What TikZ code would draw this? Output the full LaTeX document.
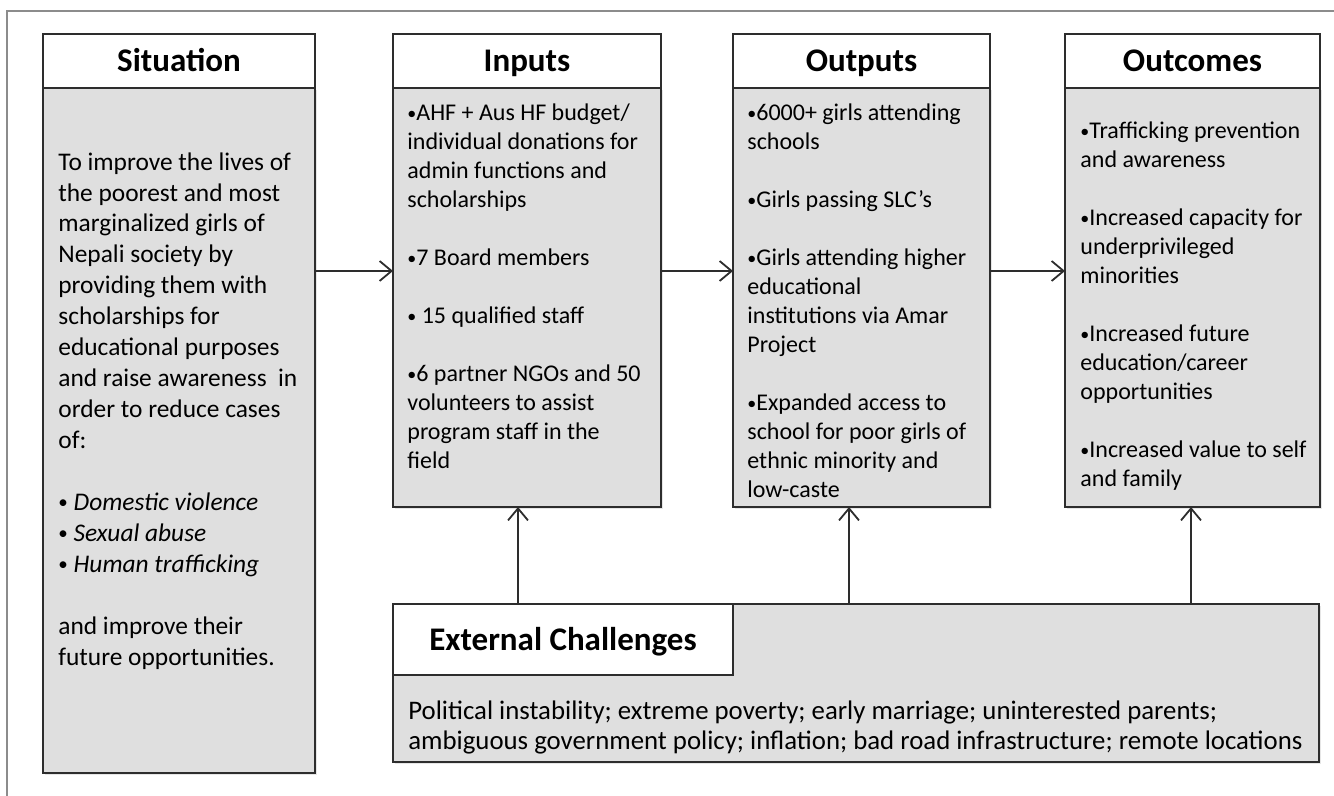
\documentclass[tikz,border=0pt]{standalone}
\usepackage{fontspec}
\setmainfont{Carlito}
\usetikzlibrary{arrows.meta,positioning,shadows}
\definecolor{boxgray}{RGB}{223,223,223}
\definecolor{linegray}{RGB}{45,45,45}
\definecolor{framegray}{RGB}{140,140,140}
\newcommand{\bul}{\raisebox{0.12ex}{\scalebox{0.75}{•}}}
\tikzset{
	head/.style={draw=linegray, fill=white, line width=1pt, inner sep=0pt, outer sep=0pt,
		text height=14.5pt, text depth=3.5pt, font=\fontsize{16.5}{18}\selectfont\bfseries},
	body/.style={draw=linegray, fill=boxgray, line width=1pt, inner sep=0pt, outer sep=0pt,
		drop shadow={shadow xshift=0.8pt, shadow yshift=-1pt, opacity=0.2}},
	bodytext/.style={anchor=north west, inner sep=0pt, align=left,
		font=\fontsize{12}{14.5}\selectfont},
	arrow/.style={-{Straight Barb[length=6pt,width=10pt]}, line width=0.9pt, draw=linegray},
}

\begin{document}
\begin{tikzpicture}[x=0.5pt, y=-0.5pt]
		%%%%% START %%%%%
		\useasboundingbox (0,0) rectangle (1334,796);
		\draw[framegray, line width=0.75pt] (7,796) -- (7,11) -- (1334,11);
		
		% top row
		\node[head, minimum width=136pt, minimum height=27pt, anchor=north west] (situation-head) at (43,34) {Situation};
		\node[body, minimum width=136pt, minimum height=342.5pt, below=0pt of situation-head] (situation) {};
		\node[head, minimum width=134pt, minimum height=27pt, anchor=north west] (inputs-head) at (393,34) {Inputs};
		\node[body, minimum width=134pt, minimum height=209.5pt, below=0pt of inputs-head] (inputs) {};
		\node[head, minimum width=128.5pt, minimum height=27pt, anchor=north west] (outputs-head) at (733,34) {Outputs};
		\node[body, minimum width=128.5pt, minimum height=209.5pt, below=0pt of outputs-head] (outputs) {};
		\node[head, minimum width=127.5pt, minimum height=27pt, anchor=north west] (outcomes-head) at (1065,34) {Outcomes};
		\node[body, minimum width=127.5pt, minimum height=209.5pt, below=0pt of outcomes-head] (outcomes) {};
		
		% texts
		\node[bodytext, font=\fontsize{12.7}{15.47}\selectfont] (situation-text) at (58,148) {\strut To improve the lives of\\
			the poorest and most\\
			marginalized girls of\\
			Nepali society by\\
			providing them with\\
			scholarships for\\
			educational purposes\\
			and raise awareness\ \ in\\
			order to reduce cases\\
			of:\\[\baselineskip]
			\bul\ \textit{Domestic violence}\\
			\bul\ \textit{Sexual abuse}\\
			\bul\ \textit{Human trafficking}\\[\baselineskip]
			and improve their\\
			future opportunities.};
		\node[bodytext] (inputs-text) at (407,100) {\strut \bul AHF + Aus HF budget/\\
			individual donations for\\
			admin functions and\\
			scholarships\\[\baselineskip]
			\bul 7 Board members\\[\baselineskip]
			\bul\ 15 qualified staff\\[\baselineskip]
			\bul 6 partner NGOs and 50\\
			volunteers to assist\\
			program staff in the\\
			field};
		\node[bodytext] (outputs-text) at (747,100) {\strut \bul 6000+ girls attending\\
			schools\\[\baselineskip]
			\bul Girls passing SLC’s\\[\baselineskip]
			\bul Girls attending higher\\
			educational\\
			institutions via Amar\\
			Project\\[\baselineskip]
			\bul Expanded access to\\
			school for poor girls of\\
			ethnic minority and\\
			low-caste};
		\node[bodytext] (outcomes-text) at (1080,118) {\strut \bul Trafficking prevention\\
			and awareness\\[\baselineskip]
			\bul Increased capacity for\\
			underprivileged\\
			minorities\\[\baselineskip]
			\bul Increased future\\
			education/career\\
			opportunities\\[\baselineskip]
			\bul Increased value to self\\
			and family};
		
		% bottom box
		\node[body, minimum width=463pt, minimum height=79pt, anchor=north west] (challenges) at (393,604) {};
		\node[head, minimum width=170pt, minimum height=35.5pt, anchor=north west] (challenges-head) at (challenges.north west) {External Challenges};
		\node[bodytext, font=\fontsize{13.4}{15}\selectfont] (challenges-text) at (408,698) {\strut Political instability; extreme poverty; early marriage; uninterested parents;\\
			ambiguous government policy; inflation; bad road infrastructure; remote locations};
		
		% connectors
		\coordinate (arrowrow) at (0,271);
		\coordinate (upA) at (518,0);
		\coordinate (upB) at (849,0);
		\coordinate (upC) at (1191,0);
		\draw[arrow] (situation.east |- arrowrow) -- (inputs.west |- arrowrow);
		\draw[arrow] (inputs.east |- arrowrow) -- (outputs.west |- arrowrow);
		\draw[arrow] (outputs.east |- arrowrow) -- (outcomes.west |- arrowrow);
		\draw[arrow] (challenges.north -| upA) -- (inputs.south -| upA);
		\draw[arrow] (challenges.north -| upB) -- (outputs.south -| upB);
		\draw[arrow] (challenges.north -| upC) -- (outcomes.south -| upC);
		%%%%% END %%%%%
\end{tikzpicture}
\end{document}
